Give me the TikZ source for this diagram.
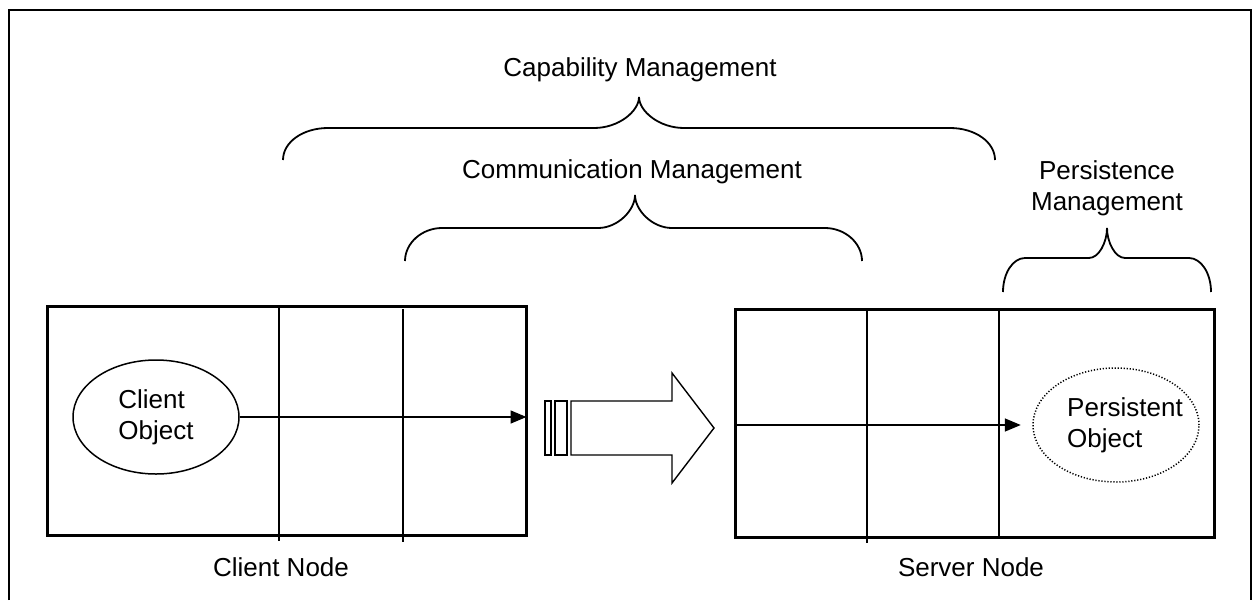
\documentclass[tikz,border=0pt]{standalone}
\usepackage{fontspec}
\setmainfont{Liberation Sans}
\usetikzlibrary{shapes.geometric,arrows.meta}
\begin{document}
\begin{tikzpicture}[x=1pt,y=-1pt,
  lbl/.style={font=\fontsize{26pt}{31pt}\selectfont, inner sep=0pt, align=center},
  boxnode/.style={draw, line width=3pt, rectangle, inner sep=0pt, minimum width=479pt, minimum height=229pt},
  thinline/.style={line width=1.5pt},
  bracepath/.style={line width=1.8pt},
  obj/.style={ellipse, draw, line width=1.5pt, minimum width=166pt, minimum height=114pt, inner sep=0pt, align=left, font=\fontsize{26pt}{31pt}\selectfont},
  tipline/.style={line width=1.5pt, -{Triangle[length=16pt,width=13pt]}}]
\useasboundingbox (0,0) rectangle (1252,600);
\draw[line width=2pt] (9,600) -- (9,9.5) -- (1251,9.5) -- (1251,600);

% braces
\draw[bracepath] (283,160) .. controls (283,142) and (303,128) .. (328,128) -- (594,128) .. controls (619,128) and (639,111) .. (639,97) .. controls (639,111) and (659,128) .. (684,128) -- (950,128) .. controls (975,128) and (995,142) .. (995,160);
\draw[bracepath] (405,261) .. controls (405,243) and (422,228) .. (442,228) -- (598,228) .. controls (618,228) and (635,210) .. (635,195) .. controls (635,210) and (652,228) .. (672,228) -- (825,228) .. controls (845,228) and (862,243) .. (862,261);
\draw[bracepath] (1003,292) .. controls (1003,273) and (1013,258) .. (1025,258) -- (1089,258) .. controls (1099,258) and (1107,242) .. (1107,228) .. controls (1107,242) and (1115,258) .. (1125,258) -- (1189,258) .. controls (1201,258) and (1211,273) .. (1211,292);

\node[lbl] (cap) at (640,70) {Capability Management};
\node[lbl] (comm) at (632,172) {Communication Management};
\node[lbl] (pers) at (1107,188) {Persistence\\Management};

% client node
\node[boxnode] (cbox) at (287,421) {};
\draw[thinline] (279,305) -- (279,541);
\draw[thinline] (403,309) -- (403,542);
\node[obj] (cobj) at (156,417) {Client\\Object};
\draw[tipline] (cobj.east) -- ([xshift=-1.5pt]cbox.east |- cobj.east);
\node[lbl] (cname) at (281,567) {Client Node};

% server node
\node[boxnode, minimum height=228pt] (sbox) at (975,423.5) {};
\draw[thinline] (867,308) -- (867,543);
\draw[thinline] (999,308) -- (999,539);
\node[obj, draw=none] (pobj) at (1116,425) {\hspace*{18pt}Persistent\\\hspace*{18pt}Object};
\draw[line width=1.5pt, dash pattern=on 1.2pt off 1.8pt] (pobj.center) ellipse [x radius=83pt, y radius=57pt];
\draw[tipline] ([xshift=1.5pt]sbox.west |- pobj.west) -- (pobj.west);
\node[lbl] (sname) at (971,567) {Server Node};

% transfer arrow
\draw[line width=1.4pt] (545,401) rectangle (551,455);
\draw[line width=1.4pt] (555,401) rectangle (567,455);
\draw[line width=1.4pt] (571,401) -- (672,401) -- (672,373) -- (714,428) -- (672,483) -- (672,455) -- (571,455) -- cycle;
\end{tikzpicture}
\end{document}
